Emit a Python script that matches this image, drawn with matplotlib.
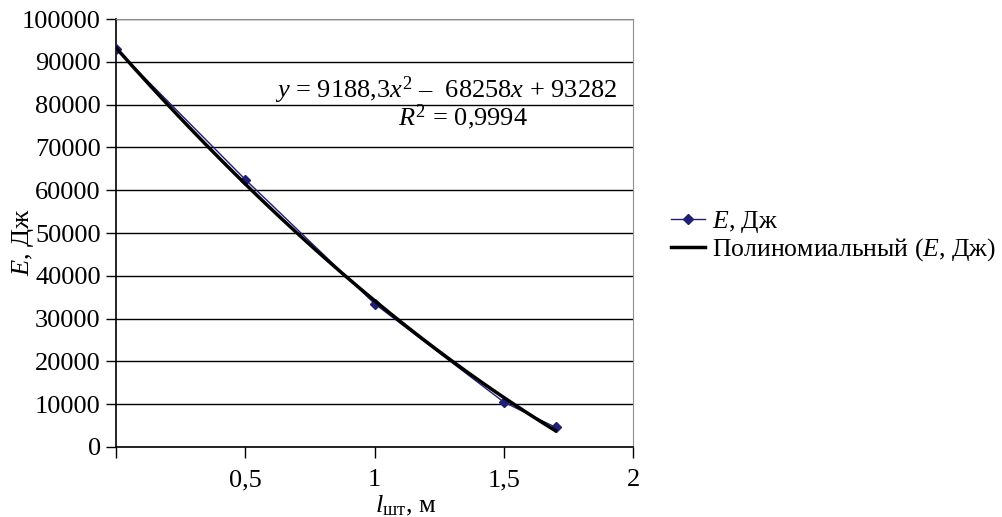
import matplotlib
matplotlib.use('Agg')
import matplotlib.pyplot as plt
import numpy as np

plt.rcParams['font.family'] = ['Liberation Serif', 'DejaVu Serif']
plt.rcParams['mathtext.fontset'] = 'custom'
plt.rcParams['mathtext.rm'] = 'Liberation Serif'
plt.rcParams['mathtext.it'] = 'Liberation Serif:italic'

# data
l_sht = [0, 0.5, 1.0, 1.5, 1.7]
energy = [93000, 62500, 33500, 10500, 4600]

# trendline coefficients as printed on the chart
trend_coef = [9188.3, -68258, 93282]
r2 = '0,9994'

xticks = [0, 0.5, 1, 1.5, 2]
xticklabels = ['', '0,5', '1', '1,5', '2']
yticks = list(range(0, 100001, 10000))

FS = 19

fig = plt.figure(figsize=(10.02, 5.17), dpi=100)
ax = fig.add_axes([0.1158, 0.1354, 0.516, 0.8278])

xt = np.linspace(l_sht[0], l_sht[-1], 200)
ax.plot(l_sht, energy, color='#1f1f78', lw=1, marker='D', ms=5,
        label='$E$, Дж', zorder=3)
ax.plot(xt, np.polyval(trend_coef, xt), color='black', lw=2.5,
        label='Полиномиальный ($E$, Дж)', zorder=4)

ax.set_xlim(0, 2)
ax.set_ylim(0, 100000)
ax.set_xticks(xticks)
ax.set_xticklabels(xticklabels)
ax.set_yticks(yticks)
ax.yaxis.grid(True, color='black', lw=1)
ax.set_axisbelow(True)
ax.tick_params(labelsize=FS, direction='out', length=7, width=1, pad=4)
ax.tick_params(axis='x', length=8, pad=8)

for s in ['top', 'right']:
    ax.spines[s].set_color('#909090')
ax.spines['left'].set_linewidth(1.2)
ax.spines['bottom'].set_linewidth(1.2)

ax.set_xlabel('$l_{\\mathrm{шт}}$, м', fontsize=FS)
ax.xaxis.set_label_coords(0.56, -0.11)
ax.set_ylabel('$E$, Дж', fontsize=FS)
ax.yaxis.set_label_coords(-0.155, 0.48)

ax.text(1.277, 81540, '$y$ = 9188,3$x^2$ –  68258$x$ + 93282', fontsize=FS,
        ha='center', va='baseline')
ax.text(1.343, 75230, '$R^2$ = ' + r2, fontsize=FS, ha='center', va='baseline')

fig.legend(loc='center left', bbox_to_anchor=(0.659, 0.5435), fontsize=18.5,
           frameon=False, handlelength=1.35, handletextpad=0.25,
           labelspacing=0.05, borderaxespad=0, borderpad=0.4)

fig.savefig('out.png', dpi=100)
